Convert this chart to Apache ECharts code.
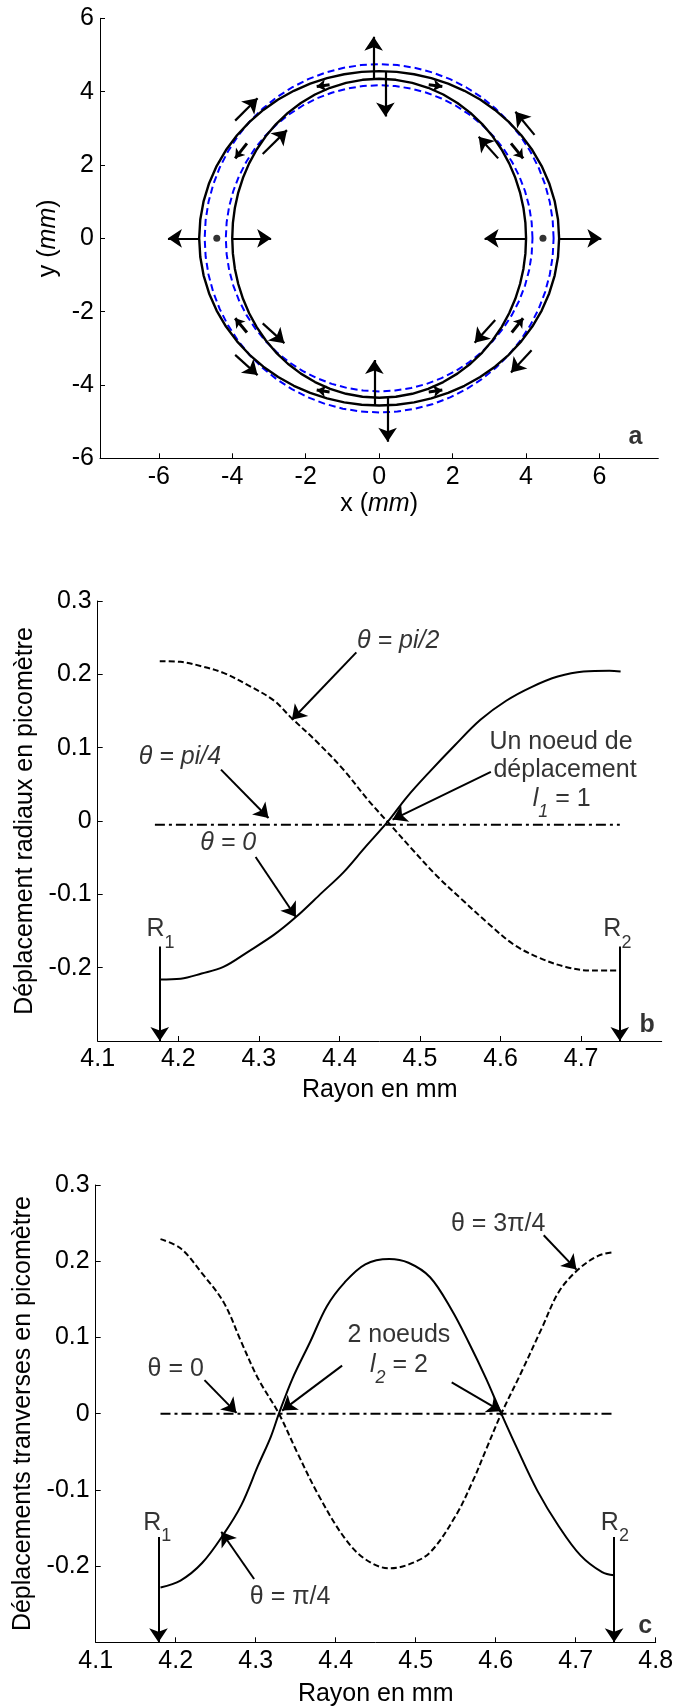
<!DOCTYPE html>
<html><head><meta charset="utf-8">
<script src="https://cdn.jsdelivr.net/npm/echarts@6/dist/echarts.min.js"></script>
<style>html,body{margin:0;padding:0;background:#fff}#c{width:673px;height:1706px}</style>
</head><body><div id="c"></div>
<script>
const FONT = "'Liberation Sans', Arial, Helvetica, sans-serif";
const FS = 25;
const FS_YT = 25;

// ---------- Panel a : ring (mm) ----------
const aTicks = [-6, -4, -2, 0, 2, 4, 6];
const ringRadii = [4.175, 4.75];          // undeformed inner / outer radius (blue dashed)
const deformBase = [4.175, 4.73];         // deformed inner / outer base radius (black)
const deformAmp = [-0.175, 0.17];         // radial cos(2θ) amplitude (black)
const nodeDots = [[-4.42, 0], [4.46, 0]];
const aArrows = [
  [[-0.15, 4.36], [-0.15, 5.50]], [[0.17, 4.54], [0.17, 3.32]],
  [[-0.13, -4.55], [-0.13, -3.32]], [[0.23, -4.32], [0.23, -5.55]],
  [[-4.91, 0], [-5.75, 0]], [[-4.0, 0], [-2.94, 0]],
  [[4.0, 0], [2.87, 0]], [[4.88, 0], [6.05, 0]],
  [[-3.92, 3.21], [-3.31, 3.82]], [[-3.17, 2.30], [-2.51, 2.95]],
  [[4.23, 2.82], [3.71, 3.45]], [[3.24, 2.18], [2.71, 2.77]],
  [[-3.92, -3.18], [-3.31, -3.73]], [[-3.17, -2.32], [-2.58, -2.86]],
  [[4.15, -3.05], [3.59, -3.66]], [[3.16, -2.23], [2.60, -2.85]]
];
const aSmallArrows = [
  [[-3.60, 2.59], [-3.92, 2.18]], [[3.59, 2.59], [3.92, 2.18]],
  [[-3.60, -2.57], [-3.92, -2.18]], [[3.61, -2.57], [3.92, -2.18]],
  [[-1.35, 4.19], [-1.70, 4.14]], [[1.35, 4.19], [1.72, 4.14]],
  [[-1.35, -4.19], [-1.70, -4.14]], [[1.35, -4.19], [1.72, -4.14]]
];

// ---------- Panel b : radial displacement ----------
const bXTicks = [4.1, 4.2, 4.3, 4.4, 4.5, 4.6, 4.7];
const bcYTicks = [-0.2, -0.1, 0, 0.1, 0.2, 0.3];
const bTheta0R = [4.177,4.203,4.229,4.256,4.287,4.319,4.346,4.378,4.405,4.431,4.460,4.484,4.511,4.543,4.575,4.607,4.639,4.671,4.703,4.735,4.749];
const bTheta0U = [-0.216,-0.215,-0.208,-0.199,-0.178,-0.155,-0.131,-0.098,-0.070,-0.037,-0.001,0.033,0.066,0.103,0.138,0.164,0.183,0.197,0.204,0.205,0.204];
const bThetaPi2R = [4.177,4.203,4.229,4.256,4.287,4.319,4.340,4.372,4.405,4.436,4.463,4.489,4.521,4.553,4.585,4.617,4.649,4.681,4.713,4.749];
const bThetaPi2U = [0.218,0.217,0.211,0.202,0.185,0.164,0.141,0.108,0.070,0.028,-0.005,-0.037,-0.075,-0.108,-0.140,-0.169,-0.187,-0.199,-0.204,-0.204];
const bThetaPi4R = [4.171, 4.748];
const bThetaPi4U = [-0.005, -0.005];
const bArrows = [
  [[4.421, 0.230], [4.341, 0.138]],
  [[4.253, 0.070], [4.312, 0.004]],
  [[4.296, -0.049], [4.346, -0.131]],
  [[4.588, 0.067], [4.466, 0.002]],
  [[4.177, -0.171], [4.177, -0.3]],
  [[4.748, -0.171], [4.748, -0.3]]
];

// ---------- Panel c : transverse displacement ----------
const cXTicks = [4.1, 4.2, 4.3, 4.4, 4.5, 4.6, 4.7, 4.8];
const cThetaPi4R = [4.181,4.206,4.233,4.260,4.282,4.303,4.319,4.329,4.346,4.368,4.389,4.411,4.437,4.467,4.491,4.518,4.545,4.566,4.588,4.607,4.626,4.652,4.679,4.706,4.733,4.748];
const cThetaPi4U = [-0.228,-0.219,-0.196,-0.158,-0.120,-0.068,-0.030,0,0.046,0.094,0.141,0.172,0.196,0.203,0.198,0.179,0.136,0.094,0.046,0,-0.044,-0.101,-0.148,-0.186,-0.208,-0.212];
const cTheta3Pi4R = [4.181,4.206,4.233,4.260,4.282,4.303,4.329,4.351,4.378,4.411,4.437,4.467,4.491,4.518,4.550,4.572,4.588,4.607,4.631,4.658,4.679,4.703,4.728,4.748];
const cTheta3Pi4U = [0.229,0.217,0.184,0.146,0.094,0.046,0,-0.049,-0.106,-0.163,-0.191,-0.203,-0.198,-0.182,-0.134,-0.087,-0.047,0,0.052,0.113,0.160,0.189,0.207,0.212];
const cTheta0R = [4.181, 4.749];
const cTheta0U = [0, 0];
const cArrows = [
  [[4.660, 0.234], [4.701, 0.189]],
  [[4.408, 0.063], [4.333, 0.004]],
  [[4.545, 0.041], [4.607, 0.003]],
  [[4.236, 0.044], [4.276, 0.001]],
  [[4.298, -0.217], [4.257, -0.155]],
  [[4.1785, -0.162], [4.1785, -0.3]],
  [[4.748, -0.162], [4.748, -0.3]]
];

// ---------- helpers ----------
const zip = (xs, ys) => xs.map((x, i) => [x, ys[i]]);
function ringPts(base, amp) {
  const pts = [];
  const n = 60;
  for (let k = 0; k <= n; k++) {
    const t = 2 * Math.PI * k / n;
    const r = base + amp * Math.cos(2 * t);
    pts.push([r * Math.cos(t), r * Math.sin(t)]);
  }
  return pts;
}
const fmt = v => String(Math.round(v * 100) / 100);
function rich(fs) {
  return {
    it: { fontStyle: 'italic', color: '#000', fontSize: fs, fontFamily: FONT },
    n: { color: '#000', fontSize: fs, fontFamily: FONT },
    sub: { fontSize: 18, color: '#000', fontFamily: FONT, padding: [26, 0, 0, 0] },
    subi: { fontSize: 18, color: '#000', fontFamily: FONT, fontStyle: 'italic', padding: [26, 0, 0, 0] },
    bold: { fontWeight: 'bold', color: '#000', fontSize: fs, fontFamily: FONT }
  };
}
function xAx(gi, min, max, ticks, name, gap, nameFs) {
  return {
    type: 'value', gridIndex: gi, min: min, max: max,
    axisLine: { show: true, onZero: false, lineStyle: { color: '#000', width: 1 } },
    axisTick: { show: true, inside: true, length: 5, customValues: ticks, lineStyle: { color: '#000' } },
    axisLabel: { customValues: ticks, formatter: fmt, color: '#000', fontSize: FS, fontFamily: FONT, margin: 6 },
    splitLine: { show: false },
    name: name, nameLocation: 'middle', nameGap: gap,
    nameTextStyle: { color: '#000', fontSize: nameFs, fontFamily: FONT, rich: rich(nameFs) }
  };
}
function line(gi, data, style, z, smooth) {
  return { type: 'line', xAxisIndex: gi, yAxisIndex: gi, data: data, showSymbol: false, symbol: 'none',
    smooth: smooth || false,
    lineStyle: Object.assign({ color: '#000', width: 2 }, style), z: z || 2, silent: true, clip: false };
}
function arrows(gi, list, size, width) {
  return { type: 'lines', coordinateSystem: 'cartesian2d', xAxisIndex: gi, yAxisIndex: gi,
    symbol: ['none', 'arrow'], symbolSize: size,
    lineStyle: { color: '#000', width: width, opacity: 1, curveness: 0 },
    data: list.map(c => ({ coords: c })), z: 5, silent: true };
}
function texts(gi, items) {
  return { type: 'scatter', xAxisIndex: gi, yAxisIndex: gi, symbolSize: 0,
    itemStyle: { color: '#000' }, z: 6, silent: true,
    data: items.map(t => ({ value: [t[0], t[1]], label: { formatter: t[2] } })),
    label: { show: true, position: [0, 0], align: 'center', verticalAlign: 'middle',
      color: '#000', fontSize: FS, fontFamily: FONT, rich: rich(FS) } };
}

const option = {
  animation: false,
  backgroundColor: '#fff',
  grid: [
    { left: 100, top: 18.3, width: 558.3, height: 440, containLabel: false, outerBoundsMode: 'none' },
    { left: 97.7, top: 601, width: 564, height: 440, containLabel: false, outerBoundsMode: 'none' },
    { left: 95.7, top: 1185, width: 560, height: 457.3, containLabel: false, outerBoundsMode: 'none' }
  ],
  xAxis: [
    xAx(0, -7.6, 7.6, aTicks, '{n|x (}{it|mm}{n|)}', 33, FS),
    xAx(1, 4.1, 4.8, bXTicks, 'Rayon en mm', 37, FS),
    xAx(2, 4.1, 4.8, cXTicks, 'Rayon en mm', 39, FS)
  ],
  yAxis: [
    xAx(0, -6, 6, aTicks, '{n|y (}{it|mm}{n|)}', 36, FS_YT),
    xAx(1, -0.3, 0.3, bcYTicks, 'Déplacement radiaux en picomètre', 53, FS_YT),
    xAx(2, -0.3, 0.3, bcYTicks, 'Déplacements tranverses en picomètre', 51, FS_YT)
  ],
  series: [
    // panel a
    line(0, ringPts(ringRadii[0], 0), { color: '#0000ff', type: [7, 4], width: 2 }),
    line(0, ringPts(ringRadii[1], 0), { color: '#0000ff', type: [7, 4], width: 2 }),
    line(0, ringPts(deformBase[0], deformAmp[0]), { width: 2.4 }, 3),
    line(0, ringPts(deformBase[1], deformAmp[1]), { width: 2.4 }, 3),
    { type: 'scatter', xAxisIndex: 0, yAxisIndex: 0, data: nodeDots, symbolSize: 7,
      itemStyle: { color: '#000' }, z: 4, silent: true },
    arrows(0, aArrows, 14, 2.2),
    arrows(0, aSmallArrows, 9, 3),
    texts(0, [[6.98, -5.41, '{bold|a}']]),
    // panel b
    line(1, zip(bTheta0R, bTheta0U), {}, 2, 0.35),
    line(1, zip(bThetaPi2R, bThetaPi2U), { type: [6, 3] }, 2, 0.35),
    line(1, zip(bThetaPi4R, bThetaPi4U), { type: [10, 4, 3, 4], width: 2 }),
    arrows(1, bArrows, 14, 2),
    texts(1, [
      [4.473, 0.246, '{it|θ = pi/2}'],
      [4.202, 0.087, '{it|θ = pi/4}'],
      [4.262, -0.030, '{it|θ = 0}'],
      [4.675, 0.108, '{n|Un noeud de}'],
      [4.680, 0.0695, '{n|déplacement}'],
      [4.676, 0.030, '{it|l}{subi|1}{n| = 1}'],
      [4.178, -0.148, '{n|R}{sub|1}'],
      [4.745, -0.148, '{n|R}{sub|2}'],
      [4.782, -0.279, '{bold|b}']
    ]),
    // panel c
    line(2, zip(cThetaPi4R, cThetaPi4U), {}, 2, 0.35),
    line(2, zip(cTheta3Pi4R, cTheta3Pi4U), { type: [6, 3] }, 2, 0.35),
    line(2, zip(cTheta0R, cTheta0U), { type: [10, 4, 3, 4], width: 2 }),
    arrows(2, cArrows, 14, 2),
    texts(2, [
      [4.603, 0.249, '{n|θ = 3π/4}'],
      [4.479, 0.103, '{n|2 noeuds}'],
      [4.479, 0.064, '{it|l}{subi|2}{n| = 2}'],
      [4.200, 0.058, '{n|θ = 0}'],
      [4.343, -0.241, '{n|θ = π/4}'],
      [4.177, -0.143, '{n|R}{sub|1}'],
      [4.749, -0.143, '{n|R}{sub|2}'],
      [4.787, -0.279, '{bold|c}']
    ])
  ]
};
const chart = echarts.init(document.getElementById('c'), null, { renderer: 'canvas' });
chart.setOption(option);
</script></body></html>
